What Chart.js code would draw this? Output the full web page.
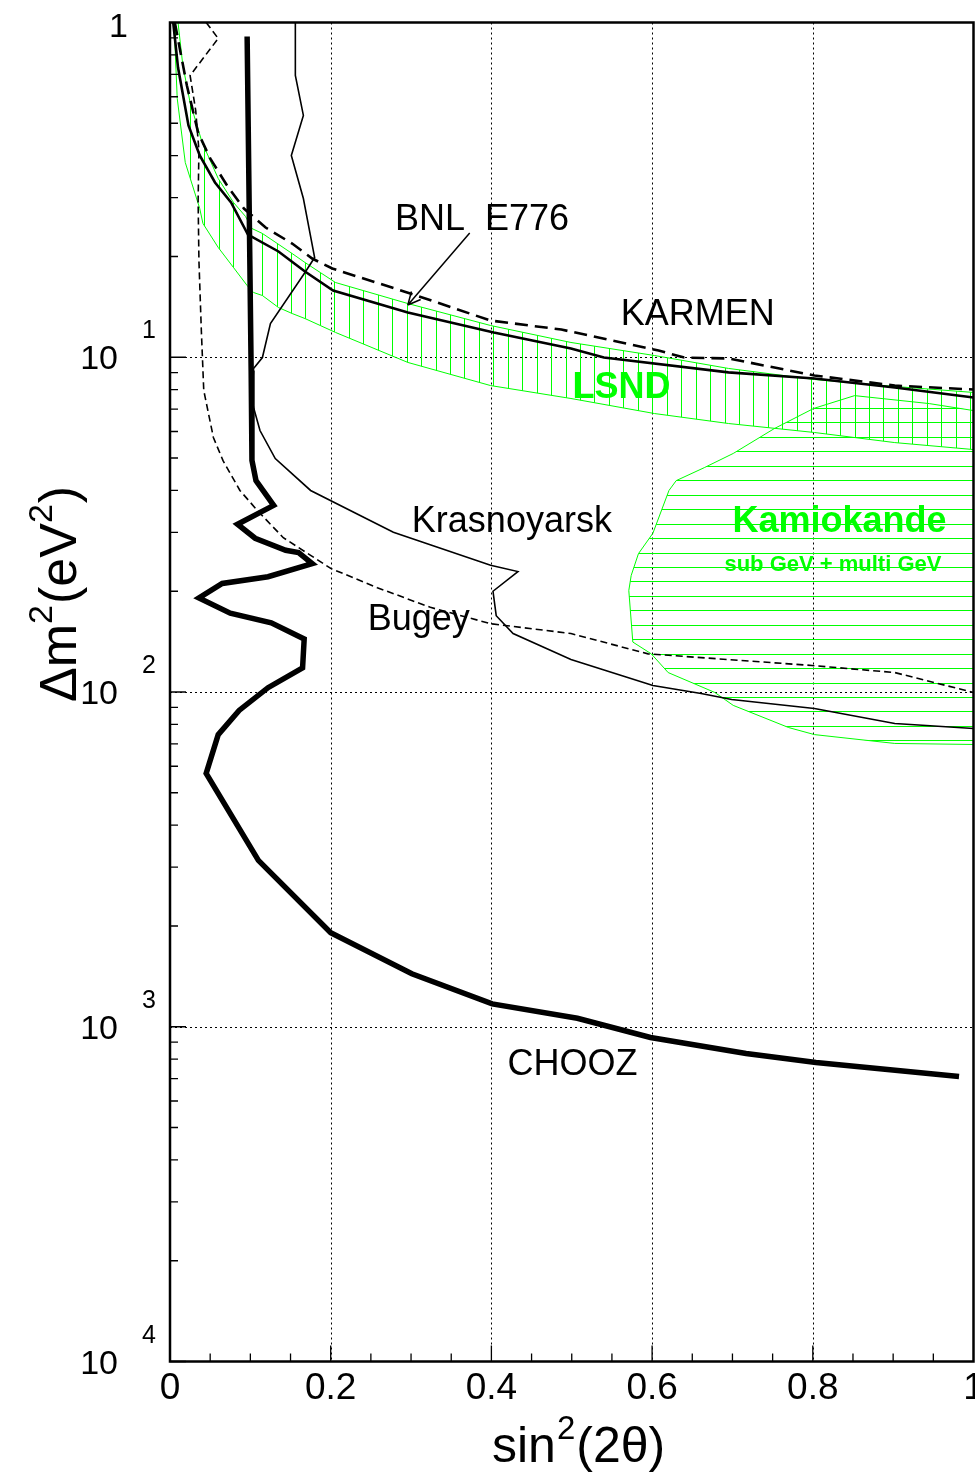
<!DOCTYPE html>
<html>
<head>
<meta charset="utf-8">
<script src="https://cdn.jsdelivr.net/npm/chart.js@4.4.1/dist/chart.umd.min.js"></script>
<style>
  html, body { margin: 0; padding: 0; background: #fff; }
  #plot { display: block; }
</style>
</head>
<body>
<canvas id="plot" width="975" height="1474"></canvas>
<script>
// Exclusion contours: x = sin^2(2 theta), y = delta m^2 in eV^2

const choozX = [0.096, 0.101, 0.102, 0.107, 0.129, 0.084, 0.106, 0.144, 0.160, 0.177, 0.122, 0.065, 0.036, 0.075, 0.126, 0.167, 0.165, 0.122, 0.086, 0.060, 0.045, 0.110, 0.200, 0.301, 0.401, 0.507, 0.598, 0.717, 0.804, 0.982];
const choozY = [0.908, 0.0913, 0.0492, 0.0428, 0.0361, 0.0317, 0.0288, 0.0265, 0.0261, 0.0242, 0.0221, 0.0211, 0.0191, 0.0172, 0.0161, 0.0144, 0.0118, 0.0103, 0.00881, 0.00746, 0.00571, 0.00314, 0.00191, 0.00144, 0.00117, 0.00106, 0.000929, 0.000832, 0.000782, 0.000710];

const krasX = [0.156, 0.156, 0.166, 0.151, 0.166, 0.180, 0.168, 0.125, 0.115, 0.104, 0.102, 0.104, 0.112, 0.131, 0.175, 0.278, 0.399, 0.433, 0.402, 0.406, 0.427, 0.499, 0.601, 0.661, 0.699, 0.802, 0.902, 1.0];
const krasY = [1.0, 0.6945, 0.5276, 0.4006, 0.2979, 0.1986, 0.1791, 0.1261, 0.0998, 0.0926, 0.0743, 0.0708, 0.0604, 0.0498, 0.0400, 0.0300, 0.0239, 0.0229, 0.0200, 0.0169, 0.01495, 0.0125, 0.01046, 0.00990, 0.00950, 0.00893, 0.00805, 0.00778];

const bugeyX = [0.045, 0.060, 0.025, 0.032, 0.036, 0.035, 0.036, 0.039, 0.042, 0.054, 0.066, 0.087, 0.109, 0.141, 0.175, 0.200, 0.258, 0.324, 0.399, 0.499, 0.595, 0.799, 0.902, 1.0];
const bugeyY = [1.0, 0.896, 0.6945, 0.546, 0.4147, 0.294, 0.1945, 0.1202, 0.0796, 0.0576, 0.0491, 0.0400, 0.0348, 0.0289, 0.0256, 0.0234, 0.0205, 0.0179, 0.0160, 0.01495, 0.0130, 0.0120, 0.01143, 0.00997];

const bnlX = [0.004, 0.010, 0.023, 0.037, 0.056, 0.076, 0.097, 0.135, 0.168, 0.203, 0.296, 0.403, 0.499, 0.540, 0.695, 0.802, 0.902, 1.0];
const bnlY = [1.0, 0.7337, 0.4925, 0.4006, 0.3327, 0.2900, 0.2326, 0.2070, 0.1804, 0.1583, 0.1360, 0.1186, 0.1062, 0.0998, 0.0901, 0.0864, 0.0812, 0.0758];

const karmenX = [0.006, 0.021, 0.035, 0.050, 0.071, 0.092, 0.119, 0.152, 0.177, 0.202, 0.299, 0.399, 0.487, 0.608, 0.640, 0.695, 0.802, 0.902, 1.0];
const karmenY = [1.0, 0.6483, 0.4692, 0.3925, 0.3259, 0.2782, 0.2441, 0.2186, 0.1972, 0.1841, 0.1551, 0.1287, 0.1210, 0.1047, 0.0998, 0.0992, 0.0882, 0.0823, 0.0801];

// LSND allowed band: upper edge left to right, then lower edge back
const lsndX = [0.010, 0.016, 0.025, 0.040, 0.060, 0.079, 0.094, 0.102, 0.115, 0.152, 0.168, 0.187, 0.206, 0.296, 0.399, 0.499, 0.603, 0.695, 0.802, 0.902, 1.0,
               1.0, 0.902, 0.802, 0.695, 0.603, 0.499, 0.399, 0.296, 0.206, 0.187, 0.168, 0.152, 0.135, 0.115, 0.104, 0.096, 0.079, 0.060, 0.041, 0.037, 0.019, 0.009, 0.005];
const lsndY = [1.0, 0.7437, 0.5768, 0.4381, 0.3420, 0.2900, 0.2634, 0.2424, 0.2343, 0.2041, 0.1919, 0.1791, 0.1672, 0.1447, 0.1244, 0.1107, 0.1012, 0.0926, 0.0858, 0.0818, 0.0785,
               0.0530, 0.0556, 0.0596, 0.0634, 0.0679, 0.0753, 0.0823, 0.0965, 0.1186, 0.1244, 0.1305, 0.1351, 0.1408, 0.1529, 0.1561, 0.1638, 0.1854, 0.2128, 0.2510, 0.2782, 0.3817, 0.5929, 1.0];

// Kamiokande allowed region (closed contour)
const kamX = [1.0, 0.945, 0.852, 0.801, 0.752, 0.701, 0.665, 0.630, 0.621, 0.601, 0.583, 0.574, 0.571, 0.576, 0.599, 0.620, 0.678, 0.701, 0.770, 0.802, 0.902, 1.0];
const kamY = [0.0693, 0.0727, 0.0768, 0.0703, 0.0612, 0.0516, 0.0468, 0.0428, 0.0400, 0.0298, 0.0259, 0.0223, 0.0201, 0.0141, 0.0130, 0.01143, 0.00997, 0.00912, 0.00783, 0.00746, 0.00702, 0.00697];

const xTickValues = [0, 0.2, 0.4, 0.6, 0.8, 1];
const xTickLabels = ['0', '0.2', '0.4', '0.6', '0.8', '1'];
const yDecades = [1, 1e-1, 1e-2, 1e-3, 1e-4];
const yExponents = ['', '1', '2', '3', '4'];

// text labels anchored at (x, y) in axis units, left aligned on the baseline
const noteText = ['BNL  E776', 'KARMEN', 'LSND', 'Krasnoyarsk', 'Kamiokande', 'sub GeV + multi GeV', 'Bugey', 'CHOOZ'];
const noteX = [0.280, 0.561, 0.501, 0.301, 0.700, 0.690, 0.246, 0.420];
const noteY = [0.240, 0.1248, 0.0755, 0.0300, 0.0300, 0.0230, 0.0153, 0.000717];
const arrowFrom = {x: 0.373, y: 0.235};
const arrowTo = {x: 0.296, y: 0.1432};

const GREEN = '#00ff00';
const FONT = "'Liberation Sans', Arial, Helvetica, sans-serif";

function pts(xs, ys) {
  return xs.map((x, i) => ({x: x, y: ys[i]}));
}

// line hatching, one line every 14.45 px
function hatch(vertical, offset) {
  const n = 20, step = 14.45, len = Math.round(n * step);
  const c = document.createElement('canvas');
  c.width = vertical ? len : 4;
  c.height = vertical ? 4 : len;
  const g = c.getContext('2d');
  g.fillStyle = GREEN;
  for (let i = 0; i < n; i++) {
    const p = Math.round(i * step);
    if (vertical) g.fillRect(p, 0, 1, 4); else g.fillRect(0, p, 4, 1);
  }
  const pat = g.createPattern(c, 'repeat');
  const m = vertical ? new DOMMatrix([1, 0, 0, 1, offset % len, 0]) : new DOMMatrix([1, 0, 0, 1, 0, offset % len]);
  pat.setTransform(m);
  return pat;
}

const frameAxes = {
  id: 'frameAxes',
  beforeDatasetsDraw(chart) {
    const {ctx, chartArea: a, scales: {x, y}} = chart;
    ctx.save();
    ctx.strokeStyle = '#000';
    ctx.lineWidth = 1;
    ctx.setLineDash([2, 3]);
    ctx.beginPath();
    xTickValues.slice(1, -1).forEach(v => {
      const px = Math.round(x.getPixelForValue(v)) + 0.5;
      ctx.moveTo(px, a.top); ctx.lineTo(px, a.bottom);
    });
    yDecades.slice(1, -1).forEach(v => {
      const py = Math.round(y.getPixelForValue(v)) + 0.5;
      ctx.moveTo(a.left, py); ctx.lineTo(a.right, py);
    });
    ctx.stroke();
    ctx.restore();
  },
  afterDatasetsDraw(chart) {
    const {ctx, chartArea: a, scales: {x, y}} = chart;
    ctx.save();
    ctx.strokeStyle = '#000';
    ctx.lineWidth = 1.3;
    ctx.beginPath();
    // x ticks every 0.05, longer at labelled values
    for (let i = 1; i < 20; i++) {
      const px = x.getPixelForValue(i * 0.05);
      const len = i % 4 === 0 ? 16 : 8;
      ctx.moveTo(px, a.bottom); ctx.lineTo(px, a.bottom - len);
    }
    // y log ticks
    yDecades.slice(1).forEach(d => {
      for (let m = 1; m < 10; m++) {
        const py = y.getPixelForValue(m * d);
        const len = m === 1 ? 16 : 8;
        ctx.moveTo(a.left, py); ctx.lineTo(a.left + len, py);
      }
    });
    ctx.stroke();

    ctx.lineWidth = 2.5;
    ctx.strokeRect(a.left, a.top, a.right - a.left, a.bottom - a.top);

    // plot labels
    ctx.textAlign = 'left';
    ctx.textBaseline = 'alphabetic';
    noteText.forEach((t, i) => {
      const green = t === 'LSND' || t.startsWith('Kamiokande') || t.startsWith('sub');
      const size = t.startsWith('sub') ? 22 : 36;
      ctx.font = (green ? 'bold ' : '') + size + 'px ' + FONT;
      ctx.fillStyle = green ? GREEN : '#000';
      ctx.fillText(t, x.getPixelForValue(noteX[i]), y.getPixelForValue(noteY[i]));
    });

    // arrow to the BNL E776 curve
    const x0 = x.getPixelForValue(arrowFrom.x), y0 = y.getPixelForValue(arrowFrom.y);
    const x1 = x.getPixelForValue(arrowTo.x), y1 = y.getPixelForValue(arrowTo.y);
    const ang = Math.atan2(y1 - y0, x1 - x0);
    ctx.lineWidth = 1.5;
    ctx.beginPath();
    ctx.moveTo(x0, y0); ctx.lineTo(x1, y1);
    [0.45, -0.45].forEach(da => {
      ctx.moveTo(x1, y1);
      ctx.lineTo(x1 - 14 * Math.cos(ang + da), y1 - 14 * Math.sin(ang + da));
    });
    ctx.stroke();
    ctx.restore();
  },
  afterDraw(chart) {
    const {ctx, chartArea: a, scales: {x, y}} = chart;
    ctx.save();
    ctx.fillStyle = '#000';
    ctx.textBaseline = 'alphabetic';

    // x tick labels
    ctx.font = '37px ' + FONT;
    ctx.textAlign = 'center';
    xTickValues.forEach((v, i) => ctx.fillText(xTickLabels[i], x.getPixelForValue(v), a.bottom + 37));

    // y tick labels: 1, then 10 with exponent
    ctx.textAlign = 'right';
    yDecades.forEach((d, i) => {
      const py = y.getPixelForValue(d);
      if (!yExponents[i]) {
        ctx.font = '34px ' + FONT;
        ctx.fillText('1', 128, py + 14);
        return;
      }
      ctx.font = '34px ' + FONT;
      ctx.fillText('10', 118, py + 12);
      ctx.font = '25px ' + FONT;
      ctx.fillText(yExponents[i], 156, py - 19);
    });

    // axis titles
    ctx.textAlign = 'left';
    let cx = 492;
    ctx.font = '50px ' + FONT;
    ctx.fillText('sin', cx, 1462);
    cx += ctx.measureText('sin').width + 1;
    ctx.font = '33px ' + FONT;
    ctx.fillText('2', cx, 1439);
    cx += ctx.measureText('2').width + 1;
    ctx.font = '50px ' + FONT;
    ctx.fillText('(2\u03b8)', cx, 1462);

    ctx.translate(76, 702);
    ctx.rotate(-Math.PI / 2);
    const parts = [['\u0394m', 52, 0], ['2', 34, -24], ['(eV', 52, 0], ['2', 34, -24], [')', 52, 0]];
    let tx = 0;
    parts.forEach(([t, s, dy]) => {
      ctx.font = s + 'px ' + FONT;
      ctx.fillText(t, tx, dy);
      tx += ctx.measureText(t).width + (s < 40 ? 1 : 0);
    });
    ctx.restore();
  }
};

new Chart(document.getElementById('plot'), {
  type: 'line',
  data: {
    datasets: [
      {label: 'CHOOZ', data: pts(choozX, choozY), borderColor: '#000', borderWidth: 5.5},
      {label: 'Krasnoyarsk', data: pts(krasX, krasY), borderColor: '#000', borderWidth: 1.6},
      {label: 'Bugey', data: pts(bugeyX, bugeyY), borderColor: '#000', borderWidth: 1.6, borderDash: [7, 4]},
      {label: 'BNL E776', data: pts(bnlX, bnlY), borderColor: '#000', borderWidth: 2.6},
      {label: 'KARMEN', data: pts(karmenX, karmenY), borderColor: '#000', borderWidth: 2.6, borderDash: [13, 7]},
      {label: 'Kamiokande', data: pts(kamX, kamY), borderColor: GREEN, borderWidth: 1,
       fill: 'shape', backgroundColor: hatch(false, 408)},
      {label: 'LSND', data: pts(lsndX, lsndY), borderColor: GREEN, borderWidth: 1,
       fill: 'shape', backgroundColor: hatch(true, 580)}
    ]
  },
  options: {
    responsive: false,
    animation: false,
    devicePixelRatio: 1,
    layout: {padding: {left: 170, top: 22.5, right: 1.5, bottom: 112.5}},
    plugins: {legend: {display: false}, tooltip: {enabled: false}},
    elements: {point: {radius: 0}, line: {tension: 0, borderJoinStyle: 'miter'}},
    scales: {
      x: {type: 'linear', min: 0, max: 1, display: false},
      y: {type: 'logarithmic', min: 1e-4, max: 1, display: false}
    }
  },
  plugins: [frameAxes]
});
</script>
</body>
</html>
